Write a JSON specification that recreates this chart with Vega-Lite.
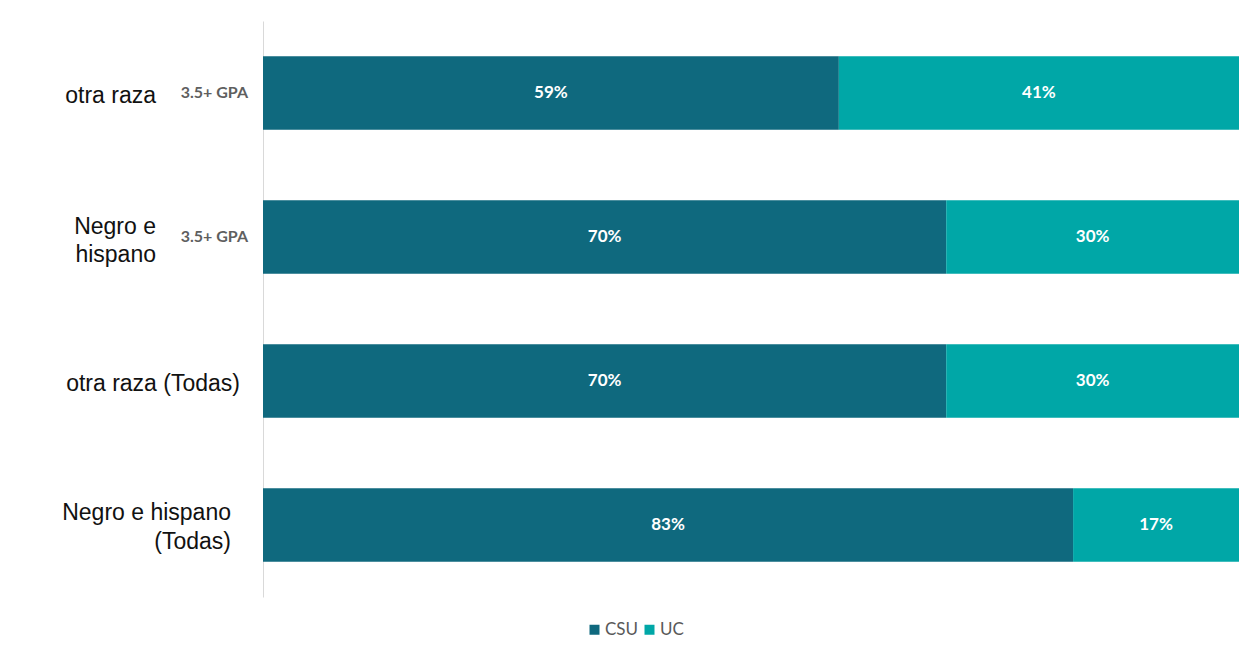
{
  "$schema": "https://vega.github.io/schema/vega-lite/v6.json",
  "width": 976,
  "height": 576,
  "autosize": "none",
  "padding": {"left": 263, "top": 21, "right": 8, "bottom": 54},
  "background": "white",
  "encoding": {
    "y": {
      "field": "group",
      "type": "nominal",
      "sort": ["g1", "g2", "g3", "g4"],
      "scale": {"paddingInner": 0.49, "paddingOuter": 0.245},
      "axis": {
        "title": null,
        "labels": false,
        "ticks": false,
        "grid": false,
        "domainColor": "#d9d9d9",
        "domainWidth": 1
      }
    }
  },
  "layer": [
    {
      "data": {
        "values": [
          {"group": "g1", "school": "CSU", "share": 0.59},
          {"group": "g1", "school": "UC", "share": 0.41},
          {"group": "g2", "school": "CSU", "share": 0.70},
          {"group": "g2", "school": "UC", "share": 0.30},
          {"group": "g3", "school": "CSU", "share": 0.70},
          {"group": "g3", "school": "UC", "share": 0.30},
          {"group": "g4", "school": "CSU", "share": 0.83},
          {"group": "g4", "school": "UC", "share": 0.17}
        ]
      },
      "transform": [
        {
          "stack": "share",
          "groupby": ["group"],
          "sort": [{"field": "school", "order": "ascending"}],
          "as": ["x0", "x1"]
        },
        {"calculate": "(datum.x0 + datum.x1) / 2", "as": "mid"}
      ],
      "layer": [
        {
          "mark": {"type": "bar"},
          "encoding": {
            "x": {
              "field": "x0",
              "type": "quantitative",
              "scale": {"domain": [0, 1], "nice": false},
              "axis": null
            },
            "x2": {"field": "x1"},
            "color": {
              "field": "school",
              "type": "nominal",
              "scale": {"domain": ["CSU", "UC"], "range": ["#0f697e", "#00a7a7"]},
              "legend": {
                "orient": "none",
                "legendX": 323,
                "legendY": 600,
                "direction": "horizontal",
                "title": null,
                "symbolType": "square",
                "symbolSize": 100,
                "symbolStrokeWidth": 0,
                "labelFont": "Lato",
                "labelFontSize": 17,
                "labelColor": "#595959",
                "labelOffset": 2,
                "columnPadding": 2,
                "padding": 0
              }
            }
          }
        },
        {
          "mark": {"type": "text", "color": "white", "font": "Lato", "fontSize": 17, "fontWeight": "bold"},
          "encoding": {
            "x": {"field": "mid", "type": "quantitative"},
            "text": {"field": "share", "type": "quantitative", "format": ".0%"}
          }
        }
      ]
    },
    {
      "data": {
        "values": [
          {"group": "g1", "label": ["otra raza"], "tag": "3.5+ GPA"},
          {"group": "g2", "label": ["Negro e", "hispano"], "tag": "3.5+ GPA"},
          {"group": "g3", "label": ["otra raza (Todas)"], "tag": ""},
          {"group": "g4", "label": ["Negro e hispano", "(Todas)"], "tag": ""}
        ]
      },
      "layer": [
        {
          "mark": {"type": "text", "align": "right", "dx": -15, "font": "Lato", "fontSize": 16, "fontWeight": "bold", "color": "#5f5f5f"},
          "encoding": {
            "x": {"datum": 0, "type": "quantitative"},
            "text": {"field": "tag"}
          }
        },
        {
          "transform": [{"filter": "datum.group == 'g1'"}],
          "mark": {"type": "text", "align": "right", "dx": -107, "dy": 3, "font": "Liberation Sans", "fontSize": 23, "lineHeight": 28, "color": "#111111"},
          "encoding": {
            "x": {"datum": 0, "type": "quantitative"},
            "text": {"field": "label"}
          }
        },
        {
          "transform": [{"filter": "datum.group == 'g2'"}],
          "mark": {"type": "text", "align": "right", "dx": -107, "dy": -10, "font": "Liberation Sans", "fontSize": 23, "lineHeight": 28, "color": "#111111"},
          "encoding": {
            "x": {"datum": 0, "type": "quantitative"},
            "text": {"field": "label"}
          }
        },
        {
          "transform": [{"filter": "datum.group == 'g3'"}],
          "mark": {"type": "text", "align": "right", "dx": -23, "dy": 3, "font": "Liberation Sans", "fontSize": 23, "lineHeight": 28, "color": "#111111"},
          "encoding": {
            "x": {"datum": 0, "type": "quantitative"},
            "text": {"field": "label"}
          }
        },
        {
          "transform": [{"filter": "datum.group == 'g4'"}],
          "mark": {"type": "text", "align": "right", "dx": -32, "dy": -12, "font": "Liberation Sans", "fontSize": 23, "lineHeight": 29, "color": "#111111"},
          "encoding": {
            "x": {"datum": 0, "type": "quantitative"},
            "text": {"field": "label"}
          }
        }
      ]
    }
  ],
  "config": {"view": {"stroke": null}}
}
